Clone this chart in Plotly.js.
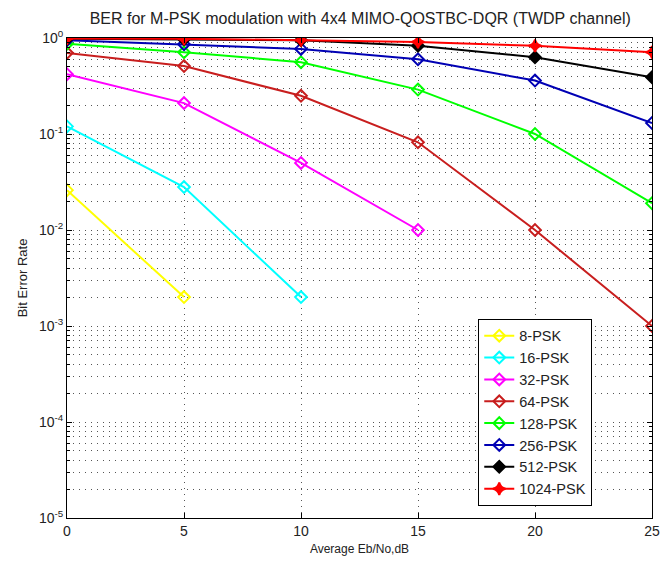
<!DOCTYPE html>
<html>
<head>
<meta charset="utf-8">
<script src="https://cdn.plot.ly/plotly-3.0.1.min.js"></script>
<style>html,body{margin:0;padding:0;background:#fff;}#chart{width:661px;height:562px;}</style>
</head>
<body>
<div id="chart"></div>
<script>
const snr = [0, 5, 10, 15, 20, 25];
const psk8 = [0.026, 0.002];
const psk16 = [0.12, 0.028, 0.002];
const psk32 = [0.42, 0.21, 0.05, 0.01];
const psk64 = [0.70, 0.51, 0.25, 0.082, 0.01, 0.001];
const psk128 = [0.87, 0.71, 0.56, 0.29, 0.10, 0.019];
const psk256 = [0.95, 0.86, 0.77, 0.60, 0.36, 0.13];
const psk512 = [0.98, 0.97, 0.95, 0.83, 0.63, 0.39];
const psk1024 = [0.99, 0.98, 0.95, 0.91, 0.83, 0.71];
const seriesNames = ['8-PSK','16-PSK','32-PSK','64-PSK','128-PSK','256-PSK','512-PSK','1024-PSK'];
const decadeVals = [1e-5, 1e-4, 1e-3, 1e-2, 1e-1, 1];
const decadeText = ['10<sup>-5</sup>','10<sup>-4</sup>','10<sup>-3</sup>','10<sup>-2</sup>','10<sup>-1</sup>','10<sup>0</sup>'];
const xTickVals = [0, 5, 10, 15, 20, 25];
const xTickText = ['0', '5', '10', '15', '20', '25'];

const seriesData = [psk8, psk16, psk32, psk64, psk128, psk256, psk512, psk1024];
const colors = ['#ffff00','#00ffff','#ff00ff','#c81e1e','#00ff00','#0000b4','#000000','#ff0000'];
const symbols = ['diamond-open','diamond-open','diamond-open','diamond-open','diamond-open','diamond-open','diamond','star-diamond'];

const traces = seriesData.map((ys, i) => ({
  x: snr.slice(0, ys.length),
  y: ys,
  name: seriesNames[i],
  type: 'scatter',
  mode: 'lines+markers',
  line: {color: colors[i], width: 2},
  marker: {symbol: symbols[i], size: 9, color: colors[i], line: {color: colors[i], width: 2}}
}));

// minor grid positions (2..9 within each decade)
const yMinorVals = [];
for (let d = 0; d < decadeVals.length - 1; d++) {
  for (let m = 2; m <= 9; m++) yMinorVals.push(decadeVals[d] * m);
}

const gridStyle = {gridcolor: '#555', griddash: '1px,5px', gridwidth: 1};

const layout = {
  width: 661, height: 562,
  margin: {l: 67, r: 9, t: 38, b: 44},
  paper_bgcolor: '#ffffff',
  plot_bgcolor: '#ffffff',
  font: {family: 'Arial, Liberation Sans, sans-serif', size: 13, color: '#222'},
  title: {text: 'BER for M-PSK modulation with 4x4 MIMO-QOSTBC-DQR (TWDP channel)', x: 0.545, xanchor: 'center', y: 0.967, yanchor: 'middle', font: {size: 16, color: '#222'}},
  showlegend: true,
  legend: {x: 0.703, y: 0.415, xanchor: 'left', yanchor: 'top', bgcolor: '#ffffff', bordercolor: '#000', borderwidth: 1, font: {size: 14.5, color: '#222'}, tracegroupgap: 0},
  xaxis: {
    range: [0, 25], tickmode: 'array', tickvals: xTickVals, ticktext: xTickText,
    ticks: 'inside', ticklen: 5, tickcolor: '#000', tickfont: {size: 14}, ticklabeloverflow: 'allow',
    showline: true, linecolor: '#000', linewidth: 1, mirror: 'ticks',
    showgrid: true, gridcolor: gridStyle.gridcolor, griddash: gridStyle.griddash, gridwidth: 1, zeroline: false,
    title: {text: 'Average Eb/No,dB', font: {size: 12, color: '#222'}, standoff: 6}
  },
  yaxis: {
    type: 'log', range: [-5, 0], tickmode: 'array', tickvals: decadeVals, ticktext: decadeText,
    ticks: 'inside', ticklen: 5, tickcolor: '#000', tickfont: {size: 14}, ticklabeloverflow: 'allow',
    showline: true, linecolor: '#000', linewidth: 1, mirror: 'ticks',
    showgrid: true, gridcolor: gridStyle.gridcolor, griddash: gridStyle.griddash, gridwidth: 1, zeroline: false,
    minor: {tickmode: 'array', tickvals: yMinorVals, ticks: 'inside', ticklen: 3, tickcolor: '#000', showgrid: true, gridcolor: gridStyle.gridcolor, griddash: gridStyle.griddash, gridwidth: 1},
    title: {text: 'Bit Error Rate', font: {size: 13, color: '#222'}, standoff: 8}
  }
};

Plotly.newPlot('chart', traces, layout, {displayModeBar: false, staticPlot: true});
</script>
</body>
</html>
